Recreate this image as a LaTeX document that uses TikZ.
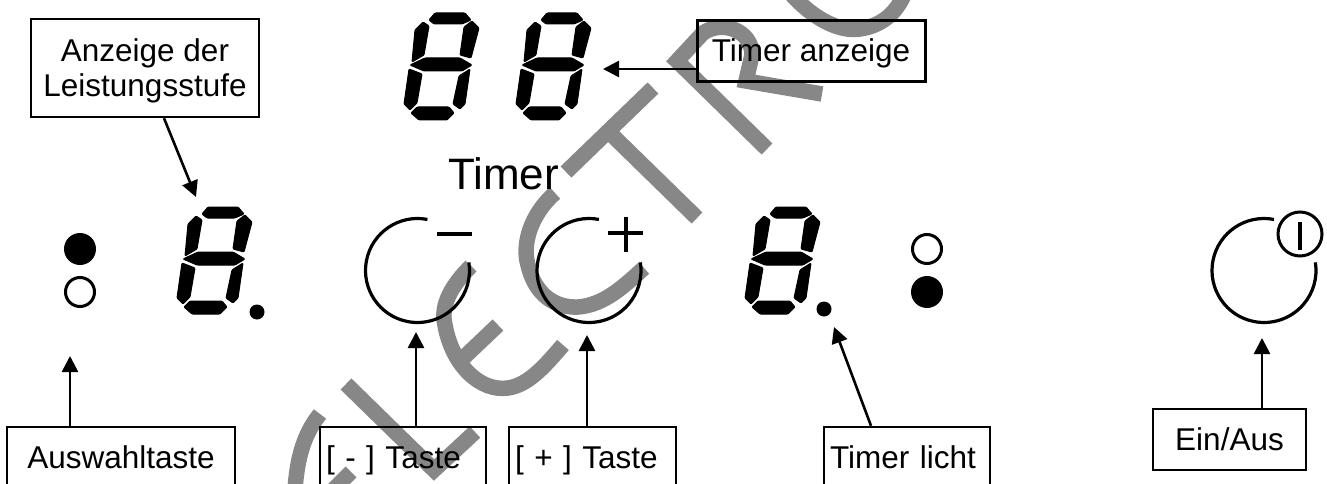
\documentclass[tikz,border=0pt]{standalone}
\usepackage{fontspec}
\setmainfont{Liberation Sans}
\usetikzlibrary{arrows.meta}
\tikzstyle{box}		=[draw=black,line width=2.4pt,minimum height=61pt,inner sep=0pt,text height=26pt,text depth=5pt,font=\fontsize{31.5}{35}\selectfont]
\tikzstyle{boxL}	=[box,inner xsep=6pt,align=left]
\tikzstyle{ledon}	=[circle,fill=black,minimum size=32pt,inner sep=0pt]
\tikzstyle{ledoff}	=[circle,draw=black,line width=3pt,minimum size=29pt,inner sep=0pt]
\tikzstyle{dotsm}	=[circle,fill=black,minimum size=15pt,inner sep=0pt]
\tikzstyle{knob}	=[draw,line width=3.2pt]
\tikzstyle{bar}		=[draw,line width=3.4pt]
\tikzstyle{edgearr}	=[draw,line width=2.6pt,-{Triangle[length=16pt,width=16pt]}]
\tikzstyle{wmark}	=[draw=black!47,line width=15.5pt]
\tikzstyle{seg}		=[draw=black,fill=black,line width=1pt,line join=round,rounded corners=1pt]
\tikzset{digit/.pic={
	\path[seg] (25,8)--(31,1)--(61,1)--(67,8)--(58,12)--(30,12)--cycle;
	\path[seg] (68,9)--(75,16)--(67,46)--(56,43)--(60,15)--cycle;
	\path[seg] (19,10)--(25,14)--(20,43)--(8,50)--(11,18)--cycle;
	\path[seg] (6,53)--(21,46)--(56,46)--(68,53)--(58,59)--(20,59)--cycle;
	\path[seg] (5,57)--(18,62)--(13,91)--(6,98)--(0,92)--cycle;
	\path[seg] (66,57)--(61,92)--(56,97)--(49,92)--(55,64)--cycle;
	\path[seg] (7,101)--(13,95)--(45,95)--(50,101)--(43,108)--(15,108)--cycle;
}}
\begin{document}
\begin{tikzpicture}[x=1pt,y=-1pt]
	\useasboundingbox (0,0) rectangle (1327,484);

	%%%%% Watermark
	\draw[wmark] (320,414) .. controls (303,435) and (297,460) .. (295,490);
	\draw[wmark] (351,472) -- (333,490);
	\draw[wmark] (346,384) -- (434,470) -- (475,432);
	\draw[wmark] (471,266) .. controls (452,285) and (440,305) .. (445,325) .. controls (452,365) and (480,392) .. (508,388) .. controls (530,385) and (548,362) .. (563,345);
	\draw[wmark] (498,325) -- (458,363);
	\draw[wmark] (555,193) .. controls (530,215) and (522,245) .. (528,265) .. controls (535,295) and (555,308) .. (578,307) .. controls (605,305) and (625,285) .. (644,268);
	\draw[wmark] (653,88) -- (566,172);
	\draw[wmark] (612,135) -- (697,218);
	\draw[wmark] (767,149) -- (677,61) -- (703,33) .. controls (722,20) and (752,30) .. (752,55) -- (746,81) -- (822,94);
	\draw[wmark] (792,-5) .. controls (815,20) and (840,32) .. (860,29) .. controls (880,26) and (895,15) .. (904,-5);

	%%%%% Displays
	\foreach \pos/\name in {{(404,12)/digA}, {(516,12)/digB}, {(177,206)/digC}, {(745,206)/digD}}
	\path \pos pic (\name) {digit};

	%%%% Indicators
	\foreach \pos/\name in {{(80,249)/ledA}, {(927,292)/ledB}}
	\node[ledon] (\name) at \pos {};
	\foreach \pos/\name in {{(80,292)/ledC}, {(927,249)/ledD}}
	\node[ledoff] (\name) at \pos {};
	\node[dotsm] (dotL) at (257,312) {};
	\node[dotsm] (dotR) at (824,309) {};

	%%%% Keys
	\foreach \pos/\name in {{(417.5,270.5)/keyM}, {(589,270.5)/keyP}, {(1264,270.5)/keyE}}
	\path[knob] \pos ++(281:52) arc (281:-9:52);
	\path[bar] (437,234) -- (472,234);
	\path[bar] (608,233) -- (643,233);
	\path[bar] (626,217) -- (626,252);
	\node[circle,draw=black,line width=3pt,minimum size=44pt,inner sep=0pt] (pwr) at (1300,234) {};
	\path[bar] (1300,222) -- (1300,250);

	\node[anchor=base,inner sep=0pt,font=\fontsize{44}{50}\selectfont] (timer) at (503.5,189) {Timer};

	%%%% Labels
	\node[box,minimum width=228pt,minimum height=98pt,align=center,text height=,text depth=0pt] (anz) at (145,68) {Anzeige der\\Leistungsstufe};
	\node[box,minimum width=228pt,line width=3pt] (timeranz) at (811,51.5) {Timer anzeige};
	\node[box,minimum width=228pt] (ausw) at (121,457.5) {Auswahltaste};
	\node[boxL,text width=154pt] (tasteM) at (403,457.5) {[ - ] Taste};
	\node[boxL,text width=155pt] (tasteP) at (592.5,457.5) {[ + ] Taste};
	\node[boxL,text width=154pt] (licht) at (907,457.5) {Timer licht};
	\node[box,minimum width=153pt] (einaus) at (1229.5,439.5) {Ein/Aus};

	%%%% Arrow ends
	\foreach \pos/\name in {{(196,197)/tipA}, {(603,69)/tipB}, {(70,356)/tipC}, {(416,332)/tipD}, {(587,335)/tipE}, {(834,327)/tipF}, {(1262,338)/tipG}}
	\path \pos coordinate (\name);

	\path[edgearr] ([xshift=19pt]anz.south) -- (tipA);
	\path[edgearr] (tipB -| timeranz.west) -- (tipB);
	\path[edgearr] (tipC |- ausw.north) -- (tipC);
	\path[edgearr] (tipD |- tasteM.north) -- (tipD);
	\path[edgearr] (tipE |- tasteP.north) -- (tipE);
	\path[edgearr] ([xshift=-36pt]licht.north) -- (tipF);
	\path[edgearr] (tipG |- einaus.north) -- (tipG);
\end{tikzpicture}
\end{document}
